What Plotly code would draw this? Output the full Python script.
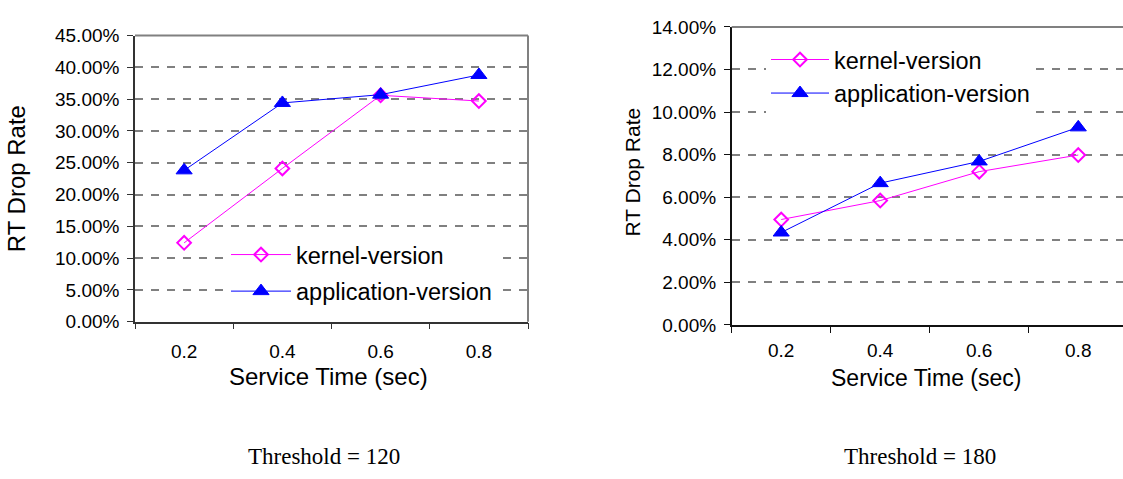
import plotly.graph_objects as go

# Service time categories (seconds)
service_time = ["0.2", "0.4", "0.6", "0.8"]

# RT drop rate, threshold = 120
kernel_t120 = [0.124, 0.241, 0.356, 0.347]
app_t120 = [0.238, 0.344, 0.357, 0.388]

# RT drop rate, threshold = 180
kernel_t180 = [0.0495, 0.0584, 0.0720, 0.0798]
app_t180 = [0.0434, 0.0666, 0.0768, 0.0928]

# Y tick values for each panel
rate_ticks_120 = [0.00, 0.05, 0.10, 0.15, 0.20, 0.25, 0.30, 0.35, 0.40, 0.45]
rate_ticks_180 = [0.00, 0.02, 0.04, 0.06, 0.08, 0.10, 0.12, 0.14]

series_names = ["kernel-version", "application-version"]
captions = ["Threshold = 120", "Threshold = 180"]

W, H = 1123, 479
SANS = "Arial, Liberation Sans, sans-serif"
SERIF = "Times New Roman, Liberation Serif, serif"
MAGENTA = "#FF00FF"
BLUE = "#0000FF"
GRID = "#808080"


def px(x):
    return x / W


def py(y):
    return 1 - y / H


fig = go.Figure()


def add_pair(kernel, app, xa, ya, leg, tag):
    fig.add_trace(go.Scatter(
        x=service_time, y=kernel, name=series_names[0],
        mode="lines+markers", xaxis=xa, yaxis=ya, legend=leg,
        legendgroup="k" + tag,
        line=dict(color=MAGENTA, width=1),
        marker=dict(symbol="diamond-open", size=10.5, color=MAGENTA,
                    line=dict(color=MAGENTA, width=2)),
    ))
    fig.add_trace(go.Scatter(
        x=service_time, y=app, name=series_names[1],
        mode="lines+markers", xaxis=xa, yaxis=ya, legend=leg,
        legendgroup="a" + tag,
        line=dict(color=BLUE, width=1),
        marker=dict(symbol="triangle-up", size=14, color=BLUE,
                    line=dict(color=BLUE, width=1)),
    ))


add_pair(kernel_t120, app_t120, "x", "y", "legend", "120")
add_pair(kernel_t180, app_t180, "x2", "y2", "legend2", "180")

tick_font = dict(family=SANS, size=19, color="black")

common_x = dict(
    type="category", tickson="boundaries", ticks="outside", ticklen=6,
    showgrid=False, zeroline=False, showline=True, linewidth=1.5,
    tickfont=tick_font, fixedrange=True,
)
common_y = dict(
    ticks="outside", ticklen=6, tickformat=".2%",
    showgrid=True, gridcolor=GRID, gridwidth=1.5, griddash="8px,8px",
    zeroline=False, showline=True, linewidth=1.5,
    tickfont=tick_font, fixedrange=True,
)

legend_font = dict(family=SANS, size=23.5, color="black")

fig.update_layout(
    width=W, height=H,
    margin=dict(l=0, r=0, t=0, b=0),
    paper_bgcolor="white", plot_bgcolor="white",
    showlegend=True,
    xaxis=dict(common_x, domain=[px(135), px(528)], anchor="y",
               range=[-0.5, 3.5], linecolor="#333333", tickcolor="#333333",
               ticklabelstandoff=12),
    yaxis=dict(common_y, domain=[py(326), py(26.7)], anchor="x",
               range=[0, 0.45], tickvals=rate_ticks_120,
               linecolor="#333333", tickcolor="#333333",
               ticklabelstandoff=4),
    xaxis2=dict(common_x, domain=[px(731.7), 1.0], anchor="y2",
                range=[-0.5, 3.452], linecolor="#111111", tickcolor="#111111",
                ticklabelstandoff=8),
    yaxis2=dict(common_y, domain=[py(329.3), py(17.7)], anchor="x2",
                range=[0, 0.14], tickvals=rate_ticks_180,
                linecolor="#111111", tickcolor="#111111",
                ticklabelstandoff=4),
    legend=dict(x=px(226), y=py(233), xanchor="left", yanchor="top",
                bgcolor="white", borderwidth=0, itemwidth=60,
                tracegroupgap=3, font=legend_font),
    legend2=dict(x=px(766), y=py(29), xanchor="left", yanchor="top",
                 bgcolor="white", borderwidth=0, itemwidth=58,
                 tracegroupgap=0, font=legend_font),
)

# Plot-area frame on the top and right sides
frame = dict(color=GRID, width=2)
fig.add_shape(type="line", xref="x domain", yref="y domain",
              x0=0, x1=1, y0=1, y1=1, line=frame, layer="above")
fig.add_shape(type="line", xref="x domain", yref="y domain",
              x0=1, x1=1, y0=0, y1=1, line=frame, layer="above")
fig.add_shape(type="line", xref="x2 domain", yref="y2 domain",
              x0=0, x1=1, y0=1, y1=1, line=frame, layer="above")

title_font = dict(family=SANS, size=24, color="black")
annotations = [
    dict(text="Service Time (sec)", x=px(328), y=py(383)),
    dict(text="Service Time (sec)", x=px(926), y=py(385),
         font=dict(family=SANS, size=23, color="black")),
    dict(text="RT Drop Rate", x=px(16), y=py(177), textangle=-90),
    dict(text="RT Drop Rate", x=px(633), y=py(170), textangle=-90,
         font=dict(family=SANS, size=21, color="black")),
    dict(text=captions[0], x=px(323.5), y=py(467),
         font=dict(family=SERIF, size=23, color="black")),
    dict(text=captions[1], x=px(920), y=py(467),
         font=dict(family=SERIF, size=23, color="black")),
]
for a in annotations:
    a.setdefault("font", title_font)
    fig.add_annotation(xref="paper", yref="paper", showarrow=False,
                       xanchor="center", yanchor="middle", **a)

fig.write_html("out.html")
